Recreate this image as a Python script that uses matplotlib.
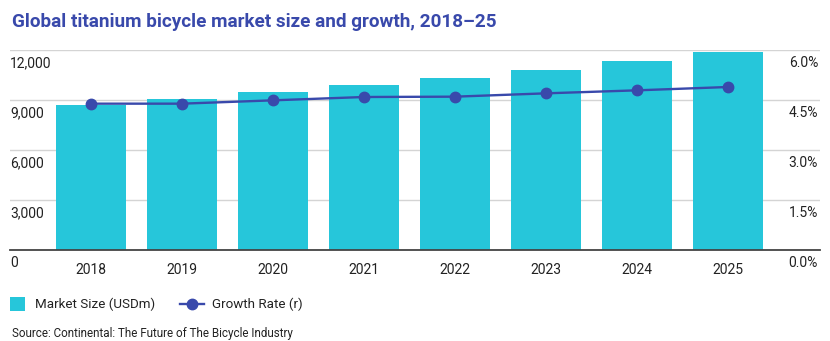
import matplotlib
matplotlib.use("Agg")
import matplotlib.pyplot as plt
from matplotlib.patches import Rectangle
from matplotlib.lines import Line2D
from matplotlib.transforms import blended_transform_factory, offset_copy

plt.rcParams['font.family'] = ['Roboto', 'DejaVu Sans']

years = ['2018', '2019', '2020', '2021', '2022', '2023', '2024', '2025']
market_size = [8700, 9060, 9480, 9900, 10350, 10820, 11340, 11900]
growth_rate = [4.39, 4.39, 4.49, 4.59, 4.60, 4.70, 4.79, 4.89]
left_ticks = [0, 3000, 6000, 9000, 12000]
left_labels = ['0', '3,000', '6,000', '9,000', '12,000']
right_ticks = [0, 1.5, 3.0, 4.5, 6.0]
right_labels = ['0.0%', '1.5%', '3.0%', '4.5%', '6.0%']
legend_labels = ['Market Size (USDm)', 'Growth Rate (r)']

BAR = '#26C6DA'
LINE = '#3949AB'
TITLE = '#3949AB'

W, H = 830, 341
fig = plt.figure(figsize=(W / 100, H / 100), dpi=100)
ax = fig.add_axes([10 / W, (H - 250) / H, 810 / W, 200 / H])

x = list(range(len(years)))
ax.bar(x, market_size, width=0.77, color=BAR, zorder=2)
ax.set_xlim(-0.89, 8.01)
ax.set_ylim(0, 12000)
ax.set_yticks(left_ticks)
ax.yaxis.grid(True, color='#d4d4d4', linewidth=1)
ax.set_axisbelow(True)
ax.tick_params(axis='y', length=0, labelleft=False)
ax.set_xticks(x)
ax.set_xticklabels(years, fontsize=10, color='#222222')
ax.tick_params(axis='x', length=0, pad=9)
for s in ['top', 'right', 'left']:
    ax.spines[s].set_visible(False)
ax.spines['bottom'].set_color('#444444')
ax.spines['bottom'].set_linewidth(1.3)
ax.spines['bottom'].set_zorder(5)

trL = offset_copy(blended_transform_factory(ax.transAxes, ax.transData), fig=fig, x=0, y=-6, units='dots')
for v, lab in zip(left_ticks, left_labels):
    ax.text(0.0, v, lab, transform=trL, ha='left', va='top', fontsize=10, color='#222222')

ax2 = ax.twinx()
ax2.set_ylim(0, 6.0)
ax2.plot(x, growth_rate, color=LINE, linewidth=1.7, marker='o', markersize=7.5, zorder=4)
ax2.set_yticks([])
for s in ax2.spines.values():
    s.set_visible(False)
trR = offset_copy(blended_transform_factory(ax2.transAxes, ax2.transData), fig=fig, x=-2, y=-6, units='dots')
for v, lab in zip(right_ticks, right_labels):
    ax2.text(1.0, v, lab, transform=trR, ha='right', va='top', fontsize=10, color='#222222')

fig.text(12 / W, 1 - 22 / H, 'Global titanium bicycle market size and growth, 2018\u201325',
         fontsize=13.6, fontweight='bold', color=TITLE, ha='left', va='center')

# legend (drawn in figure pixel space)
fig.patches.append(Rectangle((10 / W, 1 - 311 / H), 15 / W, 14 / H, transform=fig.transFigure,
                             facecolor=BAR, edgecolor='none'))
fig.text(35 / W, 1 - 304 / H, legend_labels[0], fontsize=9.6, color='#222222', ha='left', va='center')
fig.lines.append(Line2D([180 / W, 204 / W], [1 - 304 / H, 1 - 304 / H], transform=fig.transFigure,
                        color=LINE, linewidth=1.7))
fig.lines.append(Line2D([192 / W], [1 - 304 / H], transform=fig.transFigure,
                        color=LINE, marker='o', markersize=7.5, linestyle='none'))
fig.text(212 / W, 1 - 304 / H, legend_labels[1], fontsize=9.6, color='#222222', ha='left', va='center')

fig.text(12 / W, 1 - 333 / H, 'Source: Continental: The Future of The Bicycle Industry',
         fontsize=8.4, color='#222222', ha='left', va='center')

fig.savefig('out.png', dpi=100)
